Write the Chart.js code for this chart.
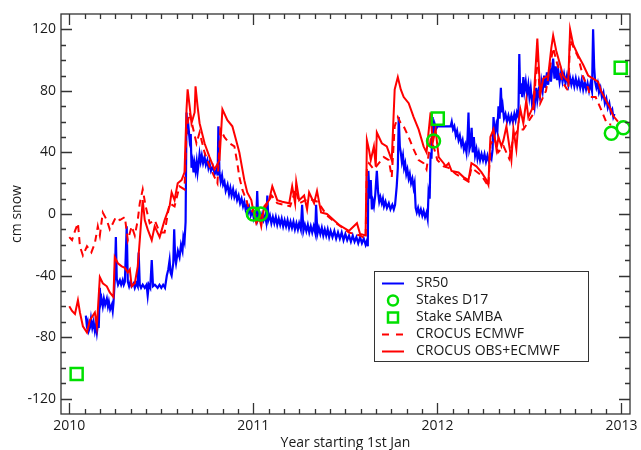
<!DOCTYPE html>
<html>
<head>
<meta charset="utf-8">
<script src="https://cdn.jsdelivr.net/npm/chart.js@4.4.1/dist/chart.umd.min.js"></script>
<style>
  body { margin: 0; background: #fff; }
  #grafico { display: block; }
</style>
</head>
<body>
<canvas id="grafico" width="641" height="450"></canvas>
<script>
// SR50 snow height (cm) (noisy sensor trace)
const sr50Year = [
  2010.090, 2010.095, 2010.100, 2010.106, 2010.112, 2010.118, 2010.125, 2010.132, 2010.139, 2010.145,
  2010.150, 2010.156, 2010.160, 2010.166, 2010.170, 2010.175, 2010.182, 2010.188, 2010.195, 2010.204,
  2010.210, 2010.215, 2010.222, 2010.231, 2010.236, 2010.240, 2010.247, 2010.253, 2010.258, 2010.265,
  2010.275, 2010.282, 2010.290, 2010.296, 2010.302, 2010.312, 2010.318, 2010.325, 2010.332, 2010.339,
  2010.350, 2010.356, 2010.365, 2010.372, 2010.377, 2010.383, 2010.390, 2010.399, 2010.410, 2010.420,
  2010.426, 2010.432, 2010.440, 2010.448, 2010.455, 2010.465, 2010.480, 2010.490, 2010.500, 2010.510,
  2010.520, 2010.530, 2010.538, 2010.545, 2010.550, 2010.556, 2010.565, 2010.570, 2010.575, 2010.580,
  2010.590, 2010.599, 2010.607, 2010.615, 2010.620, 2010.626, 2010.632, 2010.637, 2010.643, 2010.648,
  2010.654, 2010.660, 2010.664, 2010.670, 2010.675, 2010.680, 2010.686, 2010.692, 2010.697, 2010.703,
  2010.708, 2010.714, 2010.720, 2010.727, 2010.735, 2010.742, 2010.750, 2010.756, 2010.762, 2010.770,
  2010.780, 2010.790, 2010.800, 2010.806, 2010.810, 2010.816, 2010.823, 2010.830, 2010.836, 2010.843,
  2010.850, 2010.860, 2010.868, 2010.875, 2010.882, 2010.890, 2010.897, 2010.905, 2010.912, 2010.920,
  2010.928, 2010.936, 2010.944, 2010.951, 2010.958, 2010.966, 2010.972, 2010.978, 2010.986, 2010.995,
  2011.003, 2011.010, 2011.016, 2011.021, 2011.026, 2011.032, 2011.040, 2011.048, 2011.056, 2011.064,
  2011.070, 2011.076, 2011.082, 2011.090, 2011.098, 2011.106, 2011.114, 2011.122, 2011.130, 2011.138,
  2011.146, 2011.154, 2011.162, 2011.170, 2011.178, 2011.186, 2011.194, 2011.202, 2011.210, 2011.218,
  2011.226, 2011.234, 2011.242, 2011.249, 2011.258, 2011.265, 2011.272, 2011.280, 2011.288, 2011.296,
  2011.304, 2011.312, 2011.320, 2011.328, 2011.336, 2011.341, 2011.348, 2011.356, 2011.364, 2011.372,
  2011.380, 2011.388, 2011.396, 2011.404, 2011.412, 2011.420, 2011.430, 2011.440, 2011.450, 2011.460,
  2011.470, 2011.480, 2011.490, 2011.500, 2011.510, 2011.520, 2011.530, 2011.540, 2011.550, 2011.560,
  2011.570, 2011.580, 2011.590, 2011.600, 2011.610, 2011.618, 2011.622, 2011.625, 2011.632, 2011.638,
  2011.644, 2011.650, 2011.655, 2011.662, 2011.671, 2011.678, 2011.684, 2011.690, 2011.698, 2011.704,
  2011.710, 2011.718, 2011.726, 2011.736, 2011.745, 2011.755, 2011.763, 2011.770, 2011.779, 2011.785,
  2011.790, 2011.796, 2011.801, 2011.807, 2011.813, 2011.819, 2011.825, 2011.831, 2011.837, 2011.844,
  2011.850, 2011.857, 2011.864, 2011.871, 2011.876, 2011.882, 2011.888, 2011.895, 2011.902, 2011.910,
  2011.918, 2011.925, 2011.933, 2011.941, 2011.947, 2011.952, 2011.958, 2011.963, 2011.968, 2011.974,
  2011.980, 2011.986, 2011.992, 2012.000, 2012.072, 2012.078, 2012.085, 2012.092, 2012.100, 2012.107,
  2012.115, 2012.122, 2012.130, 2012.137, 2012.144, 2012.151, 2012.158, 2012.164, 2012.169, 2012.174,
  2012.180, 2012.186, 2012.192, 2012.198, 2012.205, 2012.212, 2012.218, 2012.225, 2012.232, 2012.240,
  2012.248, 2012.256, 2012.264, 2012.272, 2012.280, 2012.288, 2012.294, 2012.300, 2012.305, 2012.312,
  2012.320, 2012.326, 2012.332, 2012.338, 2012.345, 2012.350, 2012.355, 2012.362, 2012.370, 2012.378,
  2012.386, 2012.394, 2012.402, 2012.410, 2012.418, 2012.425, 2012.432, 2012.440, 2012.445, 2012.450,
  2012.455, 2012.461, 2012.467, 2012.473, 2012.480, 2012.487, 2012.494, 2012.500, 2012.507, 2012.514,
  2012.521, 2012.528, 2012.537, 2012.543, 2012.550, 2012.557, 2012.565, 2012.572, 2012.580, 2012.587,
  2012.595, 2012.602, 2012.610, 2012.617, 2012.623, 2012.629, 2012.636, 2012.643, 2012.650, 2012.656,
  2012.664, 2012.672, 2012.680, 2012.688, 2012.696, 2012.704, 2012.712, 2012.720, 2012.728, 2012.736,
  2012.744, 2012.752, 2012.760, 2012.768, 2012.776, 2012.784, 2012.792, 2012.800, 2012.808, 2012.816,
  2012.824, 2012.832, 2012.840, 2012.846, 2012.852, 2012.857, 2012.864, 2012.871, 2012.878, 2012.886,
  2012.894, 2012.902, 2012.910, 2012.918, 2012.926, 2012.934, 2012.942, 2012.950, 2012.956, 2012.962];
const sr50Cm = [
  -66, -72, -70, -76, -74, -68, -74, -70, -76, -72,
  -77, -71, -74, -48, -58, -55, -60, -55, -59, -55,
  -60, -57, -62, -59, -63, -58, -43, -15, -42, -46,
  -43, -46, -43, -46, -44, -8, -44, -47, -44, -47,
  -45, -48, -45, -47, -25, -46, -48, -46, -48, -46,
  -53, -46, -48, -30, -47, -46, -48, -46, -48, -46,
  -48, -40, -36, -30, -38, -40, -32, -10, -28, -32,
  -24, -28, -20, -24, -15, -18, -5, 66, 52, 56,
  48, 52, 30, 34, 27, 33, 28, 34, 27, 33,
  39, 34, 38, 33, 37, 32, 35, 30, 33, 28,
  31, 26, 29, 25, 57, 27, 21, 25, 19, 21,
  15, 19, 13, 17, 12, 16, 11, 14, 9, 12,
  7, 10, 5, 8, 3, 6, 1, 4, -1, 2,
  -3, 0, -3, 15, -2, 1, -4, 0, -4, -1,
  -5, 12, -4, -1, -6, -2, -6, -2, -7, -3,
  -7, -3, -8, -4, -8, -4, -9, -5, -9, -5,
  -10, -6, -10, -6, -10, 6, -11, -7, -11, -7,
  -12, -8, -12, -8, -12, 6, -13, -9, -13, -9,
  -14, -10, -14, -10, -15, -11, -15, -11, -16, -12,
  -16, -12, -17, -13, -17, -14, -18, -14, -18, -15,
  -19, -15, -19, -16, -20, -17, -21, 28, 10, 22,
  3, 8, 5, 12, 28, 14, 8, 11, 7, 10,
  5, 8, 4, 7, 3, 6, 3, 6, 18, 30,
  63, 44, 40, 34, 38, 30, 33, 26, 29, 23,
  26, 20, 23, 17, 20, 4, 1, 4, 0, 3,
  -1, 2, -2, 1, -3, 14, 10, 40, 36, 63,
  52, 58, 55, 57, 57, 60, 55, 57, 51, 54,
  48, 51, 45, 48, 42, 45, 40, 50, 66, 42,
  45, 56, 40, 50, 38, 42, 36, 40, 35, 39,
  35, 39, 34, 38, 34, 38, 36, 42, 63, 52,
  58, 54, 70, 62, 82, 66, 70, 62, 65, 60,
  64, 60, 64, 60, 65, 61, 66, 63, 104, 78,
  85, 76, 89, 80, 86, 78, 84, 76, 82, 72,
  76, 70, 82, 74, 80, 76, 86, 80, 90, 82,
  92, 84, 95, 86, 94, 101, 88, 96, 87, 94,
  86, 92, 86, 91, 85, 90, 84, 89, 84, 88,
  83, 88, 83, 87, 82, 87, 81, 86, 81, 85,
  80, 85, 80, 120, 95, 86, 82, 85, 79, 82,
  76, 79, 72, 75, 69, 72, 66, 68, 63, 65];

// CROCUS OBS+ECMWF
const crocusObsYear = [2010.000, 2010.015, 2010.031, 2010.047, 2010.058, 2010.074, 2010.096, 2010.112, 2010.139, 2010.150,
  2010.166, 2010.182, 2010.204, 2010.220, 2010.240, 2010.247, 2010.264, 2010.285, 2010.302, 2010.318,
  2010.329, 2010.339, 2010.356, 2010.372, 2010.383, 2010.399, 2010.410, 2010.426, 2010.448, 2010.464,
  2010.491, 2010.518, 2010.545, 2010.556, 2010.572, 2010.589, 2010.610, 2010.626, 2010.637, 2010.643,
  2010.654, 2010.664, 2010.681, 2010.686, 2010.697, 2010.708, 2010.735, 2010.762, 2010.789, 2010.816,
  2010.832, 2010.859, 2010.886, 2010.913, 2010.924, 2010.951, 2010.967, 2010.989, 2011.000, 2011.016,
  2011.032, 2011.043, 2011.059, 2011.086, 2011.103, 2011.130, 2011.157, 2011.195, 2011.211, 2011.227,
  2011.233, 2011.249, 2011.276, 2011.292, 2011.303, 2011.330, 2011.346, 2011.368, 2011.400, 2011.438,
  2011.465, 2011.519, 2011.563, 2011.580, 2011.610, 2011.617, 2011.628, 2011.638, 2011.655, 2011.665,
  2011.671, 2011.698, 2011.725, 2011.752, 2011.768, 2011.785, 2011.801, 2011.817, 2011.844, 2011.871,
  2011.898, 2011.925, 2011.941, 2011.963, 2011.974, 2011.990, 2012.007, 2012.034, 2012.045, 2012.061,
  2012.077, 2012.115, 2012.142, 2012.169, 2012.185, 2012.212, 2012.240, 2012.267, 2012.277, 2012.288,
  2012.305, 2012.321, 2012.332, 2012.348, 2012.359, 2012.375, 2012.386, 2012.402, 2012.413, 2012.429,
  2012.440, 2012.451, 2012.467, 2012.483, 2012.494, 2012.521, 2012.543, 2012.559, 2012.575, 2012.602,
  2012.619, 2012.629, 2012.646, 2012.667, 2012.683, 2012.711, 2012.721, 2012.738, 2012.765, 2012.792,
  2012.819, 2012.846, 2012.873, 2012.889, 2012.911, 2012.938, 2012.954, 2012.981];
const crocusObsCm = [-60, -63, -65, -56, -64, -73, -77, -69, -64, -73,
  -41, -45, -47, -51, -54, -28, -32, -34, -35, -38,
  -36, -47, -45, -34, -17, 9, -4, -10, -17, -8,
  -15, -4, 5, 14, 9, 20, 22, 27, 68, 81,
  70, 59, 66, 83, 70, 59, 46, 37, 29, 35,
  68, 61, 57, 45, 40, 22, 14, 9, 2, -6,
  -2, -8, 5, 9, 18, 9, 8, 7, 18, 7,
  21, 9, 12, 3, 14, 7, 15, 1, 0, -4,
  -7, -11, -6, -13, -14, 48, 42, 35, 44, 31,
  53, 46, 44, 35, 81, 89, 81, 76, 72, 63,
  55, 44, 40, 66, 46, 55, 37, 33, 31, 33,
  28, 27, 24, 22, 33, 31, 27, 22, 19, 50,
  55, 42, 50, 44, 48, 57, 48, 35, 55, 42,
  59, 68, 59, 74, 63, 70, 114, 78, 88, 90,
  108, 116, 106, 97, 90, 86, 120, 110, 103, 97,
  90, 88, 86, 80, 75, 69, 64, 60];

// CROCUS ECMWF
const crocusEcmwfYear = [2010.000, 2010.015, 2010.031, 2010.047, 2010.058, 2010.074, 2010.096, 2010.120, 2010.139, 2010.155,
  2010.166, 2010.182, 2010.204, 2010.220, 2010.237, 2010.253, 2010.275, 2010.302, 2010.318, 2010.339,
  2010.356, 2010.372, 2010.383, 2010.399, 2010.415, 2010.437, 2010.464, 2010.491, 2010.518, 2010.545,
  2010.572, 2010.599, 2010.626, 2010.637, 2010.654, 2010.670, 2010.691, 2010.708, 2010.735, 2010.762,
  2010.789, 2010.805, 2010.821, 2010.843, 2010.870, 2010.897, 2010.913, 2010.924, 2010.940, 2010.962,
  2010.978, 2011.005, 2011.030, 2011.060, 2011.100, 2011.130, 2011.200, 2011.230, 2011.250, 2011.300,
  2011.350, 2011.400, 2011.450, 2011.520, 2011.580, 2011.610, 2011.617, 2011.628, 2011.655, 2011.682,
  2011.709, 2011.736, 2011.752, 2011.768, 2011.785, 2011.801, 2011.817, 2011.844, 2011.871, 2011.898,
  2011.925, 2011.941, 2011.963, 2011.979, 2012.000, 2012.034, 2012.061, 2012.100, 2012.142, 2012.169,
  2012.185, 2012.240, 2012.277, 2012.288, 2012.310, 2012.330, 2012.360, 2012.390, 2012.413, 2012.440,
  2012.467, 2012.494, 2012.521, 2012.543, 2012.559, 2012.590, 2012.629, 2012.650, 2012.683, 2012.711,
  2012.721, 2012.765, 2012.792, 2012.819, 2012.830, 2012.860, 2012.889, 2012.920, 2012.944];
const crocusEcmwfCm = [-15, -17, -11, -6, -21, -27, -21, -25, -19, -8,
  -14, 1, -4, -10, -6, -2, -4, -2, -17, -8,
  -14, -4, 7, 16, 5, -6, -4, -12, -12, 7,
  5, 18, 16, 55, 66, 57, 46, 53, 40, 31,
  24, 20, 55, 50, 46, 44, 33, 24, 16, 9,
  3, 1, -4, 3, 12, 7, 5, 16, 7, 10,
  8, -1, -6, -12, -14, -16, 30, 33, 29, 33,
  37, 35, 24, 57, 63, 59, 57, 50, 42, 35,
  33, 29, 48, 44, 35, 31, 30, 26, 23, 21,
  30, 25, 18, 45, 50, 40, 44, 36, 50, 55,
  55, 60, 65, 105, 72, 80, 108, 98, 85, 80,
  113, 102, 89, 82, 76, 76, 68, 59, 58];

// Stakes D17 and Stake SAMBA
const stakesD17Year = [2011.000, 2011.040, 2011.979, 2012.945, 2013.010];
const stakesD17Cm = [0, 0, 47.5, 52.5, 56];
const sambaYear = [2010.040, 2012.002, 2012.996];
const sambaCm = [-104, 62, 95];

// axis ticks
const xTickYears = [2010, 2011, 2012, 2013];
const yTickValues = [-120, -80, -40, 0, 40, 80, 120];

const azul = '#0000ff';
const vermelho = '#ff0000';
const verde = '#00e000';
const fonte = '"Open Sans", "DejaVu Sans", sans-serif';

function pontos(anos, valores) {
    return anos.map((a, i) => ({ x: a, y: valores[i] }));
}

const legendaItens = [
    { texto: 'SR50', tipo: 'linha', cor: azul },
    { texto: 'Stakes D17', tipo: 'circulo', cor: verde },
    { texto: 'Stake SAMBA', tipo: 'quadrado', cor: verde },
    { texto: 'CROCUS ECMWF', tipo: 'tracejado', cor: vermelho },
    { texto: 'CROCUS OBS+ECMWF', tipo: 'linha', cor: vermelho }
];

// frame, inward ticks, labels and legend drawn on top
const molduraPlugin = {
    id: 'moldura',
    afterDraw(chart) {
        const ctx = chart.ctx;
        const area = chart.chartArea;
        const sx = chart.scales.x;
        const sy = chart.scales.y;
        ctx.save();
        ctx.strokeStyle = '#333';
        ctx.lineWidth = 1.3;
        ctx.strokeRect(area.left, area.top, area.right - area.left, area.bottom - area.top);

        ctx.beginPath();
        // x ticks: years and months
        for (let ano = 2009; ano <= 2013; ano++) {
            for (let m = 0; m < 12; m++) {
                const v = ano + m / 12;
                if (v < sx.min || v > sx.max) continue;
                const px = Math.round(sx.getPixelForValue(v)) + 0.5;
                const len = m === 0 ? 11 : 5;
                ctx.moveTo(px, area.bottom); ctx.lineTo(px, area.bottom - len);
                ctx.moveTo(px, area.top); ctx.lineTo(px, area.top + len);
            }
        }
        // y ticks every 10
        for (let v = -130; v <= 130; v += 10) {
            if (v <= sy.min || v >= sy.max) continue;
            const py = Math.round(sy.getPixelForValue(v)) + 0.5;
            const len = v % 40 === 0 ? 11 : 5;
            ctx.moveTo(area.left, py); ctx.lineTo(area.left + len, py);
            ctx.moveTo(area.right, py); ctx.lineTo(area.right - len, py);
        }
        ctx.stroke();

        ctx.fillStyle = '#1a1a1a';
        ctx.font = '14px ' + fonte;
        ctx.textAlign = 'center';
        ctx.textBaseline = 'middle';
        xTickYears.forEach(a => {
            ctx.fillText(String(a), sx.getPixelForValue(a), area.bottom + 12);
        });
        ctx.textAlign = 'right';
        yTickValues.forEach(v => {
            ctx.fillText(String(v), area.left - 5, sy.getPixelForValue(v));
        });

        // axis titles
        ctx.textAlign = 'center';
        ctx.fillText('Year starting 1st Jan', (area.left + area.right) / 2, 443);
        ctx.save();
        ctx.translate(17, (area.top + area.bottom) / 2);
        ctx.rotate(-Math.PI / 2);
        ctx.fillText('cm snow', 0, 0);
        ctx.restore();

        // legend
        const bx = 374.5, by = 271.5, bw = 214, bh = 90;
        ctx.fillStyle = '#fff';
        ctx.fillRect(bx, by, bw, bh);
        ctx.strokeStyle = '#333';
        ctx.lineWidth = 1;
        ctx.strokeRect(bx, by, bw, bh);
        ctx.textAlign = 'left';
        legendaItens.forEach((it, i) => {
            const y = 283.5 + i * 17;
            ctx.strokeStyle = it.cor;
            ctx.lineWidth = 2;
            if (it.tipo === 'linha' || it.tipo === 'tracejado') {
                ctx.setLineDash(it.tipo === 'tracejado' ? [7, 7] : []);
                ctx.beginPath();
                ctx.moveTo(382, y); ctx.lineTo(404, y);
                ctx.stroke();
                ctx.setLineDash([]);
            } else if (it.tipo === 'circulo') {
                ctx.lineWidth = 2.5;
                ctx.beginPath();
                ctx.arc(393, y, 5, 0, Math.PI * 2);
                ctx.stroke();
            } else {
                ctx.lineWidth = 2.5;
                ctx.strokeRect(388, y - 5, 10, 10);
            }
            ctx.fillStyle = '#1a1a1a';
            ctx.fillText(it.texto, 416, y);
        });
        ctx.restore();
    }
};

const ctx1 = document.getElementById('grafico');

const grafico = new Chart(ctx1, {
    type: 'line',
    data: {
        datasets: [
            {
                label: 'Stakes D17',
                data: pontos(stakesD17Year, stakesD17Cm),
                showLine: false,
                pointStyle: 'circle',
                pointRadius: 6.5,
                pointBorderWidth: 2.5,
                pointBorderColor: verde,
                pointBackgroundColor: 'rgba(0,0,0,0)',
                order: 0
            },
            {
                label: 'Stake SAMBA',
                data: pontos(sambaYear, sambaCm),
                showLine: false,
                pointStyle: 'rect',
                pointRadius: 8.5,
                pointBorderWidth: 2.5,
                pointBorderColor: verde,
                pointBackgroundColor: 'rgba(0,0,0,0)',
                order: 0
            },
            {
                label: 'CROCUS OBS+ECMWF',
                data: pontos(crocusObsYear, crocusObsCm),
                borderColor: vermelho,
                borderWidth: 2,
                pointRadius: 0,
                tension: 0,
                order: 1
            },
            {
                label: 'CROCUS ECMWF',
                data: pontos(crocusEcmwfYear, crocusEcmwfCm),
                borderColor: vermelho,
                borderWidth: 2,
                borderDash: [7, 5],
                pointRadius: 0,
                tension: 0,
                order: 2
            },
            {
                label: 'SR50',
                data: pontos(sr50Year, sr50Cm),
                borderColor: azul,
                borderWidth: 2.2,
                pointRadius: 0,
                tension: 0,
                order: 3
            }
        ]
    },
    options: {
        responsive: false,
        animation: false,
        devicePixelRatio: 1,
        layout: { padding: { top: 14, right: 9, left: 0, bottom: 0 } },
        plugins: {
            legend: { display: false },
            tooltip: { enabled: false }
        },
        scales: {
            x: {
                type: 'linear',
                min: 2009.955,
                max: 2013.0465,
                grid: { display: false },
                border: { display: false },
                ticks: { display: false },
                afterFit(s) { s.height = 36; }
            },
            y: {
                type: 'linear',
                min: -130,
                max: 130,
                grid: { display: false },
                border: { display: false },
                ticks: { display: false },
                afterFit(s) { s.width = 61; }
            }
        }
    },
    plugins: [molduraPlugin]
});
</script>
</body>
</html>
